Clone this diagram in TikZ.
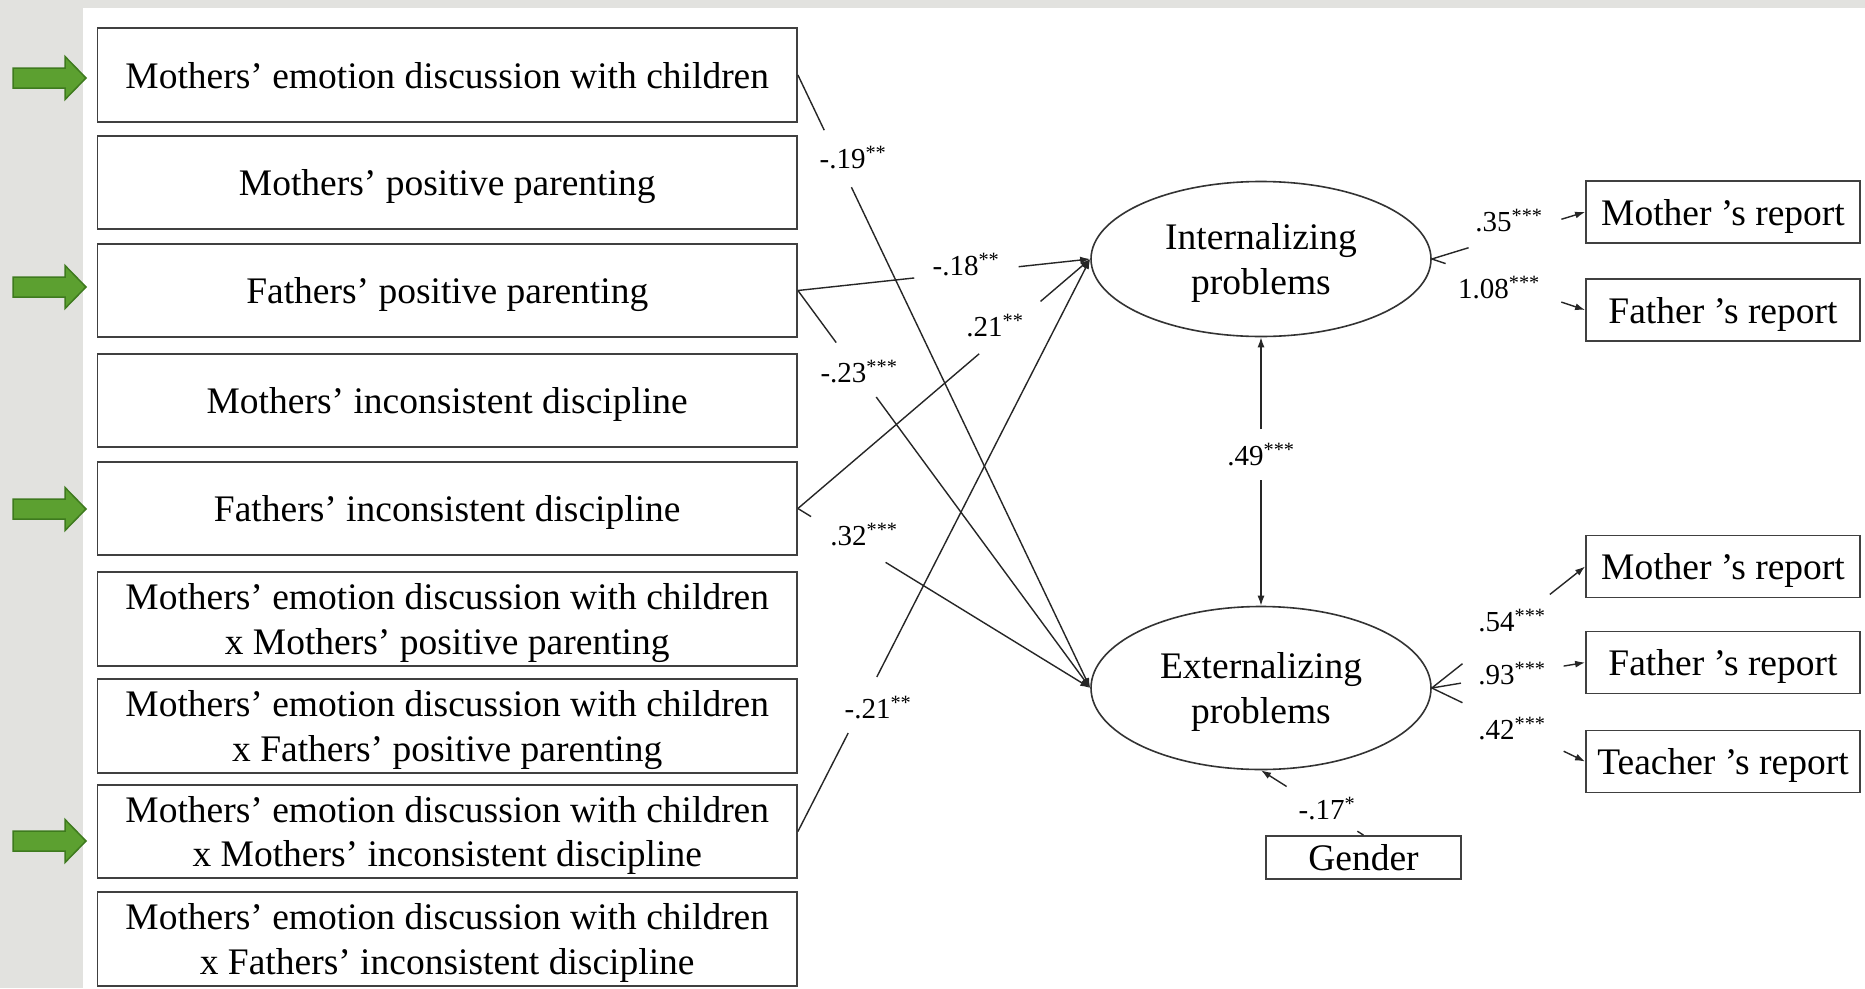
\documentclass[tikz,border=0pt]{standalone}
\usepackage{fontspec}
\setmainfont{Liberation Serif}
\usetikzlibrary{arrows.meta,calc,shapes.geometric}
\definecolor{bggray}{RGB}{226,226,223}
\definecolor{gfill}{RGB}{92,160,48}
\definecolor{gdraw}{RGB}{62,122,30}
\begin{document}
\begin{tikzpicture}[x=1pt,y=-1pt,
  lbox/.style={draw=black!75, line width=1.8pt, fill=white, minimum width=699.5pt, minimum height=93.5pt, inner sep=0pt, align=center, text depth=0pt, font=\fontsize{37.5}{44.5}\selectfont},
  rbox/.style={lbox, minimum width=274pt, minimum height=62pt},
  gbox/.style={lbox, minimum width=195pt, minimum height=43pt},
  latent/.style={ellipse, draw=black!80, line width=1.6pt, minimum width=340pt, inner sep=0pt, align=center, text depth=0pt, font=\fontsize{37.5}{44.5}\selectfont},
  lab/.style={inner sep=0pt, font=\fontsize{29}{34}\selectfont},
  conn/.style={line width=1.4pt, draw=black!85},
  arr/.style={conn, -{Latex[length=10pt,width=7pt]}},
  garrow/.style={fill=gfill, draw=gdraw, line width=1.5pt, line join=miter}
]
\useasboundingbox (0,0) rectangle (1865,988);
\fill[bggray] (0,0) rectangle (1865,988);
\fill[white] (83,8) rectangle (1865,988);

% green markers
\foreach \c in {78,287,509,841}{
  \draw[garrow] (13,\c-10) -- (65,\c-10) -- (65,\c-21.5) -- (86,\c) -- (65,\c+21.5) -- (65,\c+10) -- (13,\c+10) -- cycle;
}

% left boxes
\node[lbox] (b1) at (447.25,75)    {Mothers’ emotion discussion with children};
\node[lbox] (b2) at (447.25,182.5) {Mothers’ positive parenting};
\node[lbox] (b3) at (447.25,290.5) {Fathers’ positive parenting};
\node[lbox] (b4) at (447.25,400.5) {Mothers’ inconsistent discipline};
\node[lbox] (b5) at (447.25,508.5) {Fathers’ inconsistent discipline};
\node[lbox] (b6) at (447.25,619)   {Mothers’ emotion discussion with children\\x Mothers’ positive parenting};
\node[lbox] (b7) at (447.25,726)   {Mothers’ emotion discussion with children\\x Fathers’ positive parenting};
\node[lbox] (b8) at (447.25,831.5) {Mothers’ emotion discussion with children\\x Mothers’ inconsistent discipline};
\node[lbox] (b9) at (447.25,939)   {Mothers’ emotion discussion with children\\x Fathers’ inconsistent discipline};

% latent variables
\node[latent, minimum height=155pt] (int) at (1261,259) {Internalizing\\problems};
\node[latent, minimum height=163pt] (ext) at (1261,688) {Externalizing\\problems};

% indicators
\node[rbox] (mi) at (1723,212)   {Mother ’s report};
\node[rbox] (fi) at (1723,310)   {Father ’s report};
\node[rbox] (me) at (1723,566.5) {Mother ’s report};
\node[rbox] (fe) at (1723,662.5) {Father ’s report};
\node[rbox] (te) at (1723,761.5) {Teacher ’s report};
\node[gbox] (gender) at (1363.5,857.5) {Gender};

% path labels
\node[lab] (l19)  at (853,158)  {-.19\textsuperscript{**}};
\node[lab] (l18)  at (966,265)  {-.18\textsuperscript{**}};
\node[lab] (l23)  at (859,372)  {-.23\textsuperscript{***}};
\node[lab] (l21a) at (995,326)  {.21\textsuperscript{**}};
\node[lab] (l32)  at (864,535)  {.32\textsuperscript{***}};
\node[lab] (l21b) at (878,708)  {-.21\textsuperscript{**}};
\node[lab] (l49)  at (1261,455) {.49\textsuperscript{***}};
\node[lab] (l35)  at (1509,221) {.35\textsuperscript{***}};
\node[lab] (l108) at (1499,288) {1.08\textsuperscript{***}};
\node[lab] (l54)  at (1512,621) {.54\textsuperscript{***}};
\node[lab] (l93)  at (1512,674) {.93\textsuperscript{***}};
\node[lab] (l42)  at (1512,729) {.42\textsuperscript{***}};
\node[lab] (l17)  at (1327,809) {-.17\textsuperscript{*}};

% structural paths (broken around the labels)
\draw[conn] (b1.east) -- ($(b1.east)!0.09!(ext.west)$);
\draw[arr]  ($(b1.east)!0.183!(ext.west)$) -- (ext.west);

\draw[conn] (b3.east) -- ($(b3.east)!0.398!(int.west)$);
\draw[arr]  ($(b3.east)!0.755!(int.west)$) -- (int.west);

\draw[conn] (b3.east) -- ($(b3.east)!0.131!(ext.west)$);
\draw[arr]  ($(b3.east)!0.268!(ext.west)$) -- (ext.west);

\draw[conn] (b5.east) -- ($(b5.east)!0.62!(int.west)$);
\draw[arr]  ($(b5.east)!0.83!(int.west)$) -- (int.west);

\draw[conn] (b5.east) -- ($(b5.east)!0.045!(ext.west)$);
\draw[arr]  ($(b5.east)!0.30!(ext.west)$) -- (ext.west);

\draw[conn] (b8.east) -- ($(b8.east)!0.172!(int.west)$);
\draw[arr]  ($(b8.east)!0.27!(int.west)$) -- (int.west);

% correlation
\draw[arr] ($(int.south)!0.342!(ext.north)$) -- (int.south);
\draw[arr] ($(int.south)!0.533!(ext.north)$) -- (ext.north);

% loadings
\draw[conn] (int.east) -- ($(int.east)!0.24!(mi.west)$);
\draw[arr]  ($(int.east)!0.845!(mi.west)$) -- (mi.west);
\draw[conn] (int.east) -- ($(int.east)!0.09!(fi.west)$);
\draw[arr]  ($(int.east)!0.845!(fi.west)$) -- (fi.west);

\draw[conn] (ext.east) -- ($(ext.east)!0.2!(me.west)$);
\draw[arr]  ($(ext.east)!0.77!(me.west)$) -- (me.west);
\draw[conn] (ext.east) -- ($(ext.east)!0.19!(fe.west)$);
\draw[arr]  ($(ext.east)!0.86!(fe.west)$) -- (fe.west);
\draw[conn] (ext.east) -- ($(ext.east)!0.2!(te.west)$);
\draw[arr]  ($(ext.east)!0.86!(te.west)$) -- (te.west);

% covariate
\draw[conn] (gender.north) -- ($(gender.north)!0.06!(ext.south)$);
\draw[arr]  ($(gender.north)!0.75!(ext.south)$) -- (ext.south);
\end{tikzpicture}
\end{document}
